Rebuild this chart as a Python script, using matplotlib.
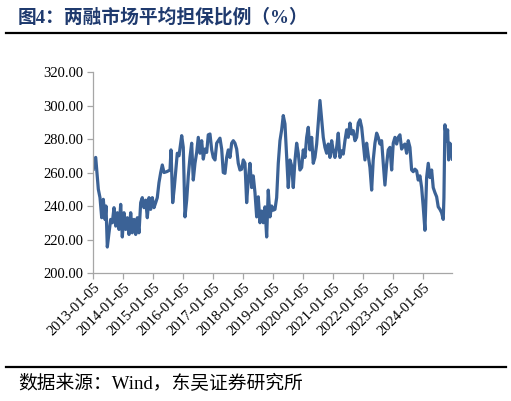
import matplotlib
matplotlib.use('Agg')
import matplotlib.pyplot as plt
import pandas as pd

# decimal year (2013.0 = 2013-01-05) and average collateral ratio (%)
years = [
    2013.000, 2013.033, 2013.080, 2013.113, 2013.167, 2013.223, 2013.280, 2013.333,
    2013.390, 2013.423, 2013.467, 2013.523, 2013.580, 2013.633, 2013.690, 2013.747,
    2013.800, 2013.857, 2013.913, 2013.967, 2014.023, 2014.080, 2014.133, 2014.190,
    2014.247, 2014.300, 2014.357, 2014.413, 2014.467, 2014.523, 2014.580, 2014.633,
    2014.690, 2014.747, 2014.800, 2014.857, 2014.913, 2014.967, 2015.023, 2015.080,
    2015.133, 2015.190, 2015.247, 2015.300, 2015.357, 2015.447, 2015.557, 2015.590,
    2015.647, 2015.700, 2015.800, 2015.857, 2015.947, 2016.000, 2016.057, 2016.113,
    2016.167, 2016.223, 2016.280, 2016.333, 2016.390, 2016.447, 2016.500, 2016.557,
    2016.613, 2016.667, 2016.723, 2016.780, 2016.833, 2016.890, 2016.947, 2017.000,
    2017.057, 2017.113, 2017.167, 2017.223, 2017.280, 2017.333, 2017.390, 2017.447,
    2017.500, 2017.557, 2017.613, 2017.667, 2017.723, 2017.780, 2017.833, 2017.890,
    2017.947, 2018.000, 2018.057, 2018.113, 2018.167, 2018.223, 2018.280, 2018.333,
    2018.390, 2018.447, 2018.500, 2018.557, 2018.613, 2018.667, 2018.723, 2018.780,
    2018.833, 2018.890, 2018.947, 2019.000, 2019.057, 2019.113, 2019.167, 2019.223,
    2019.280, 2019.333, 2019.390, 2019.447, 2019.500, 2019.557, 2019.613, 2019.667,
    2019.723, 2019.780, 2019.833, 2019.890, 2019.947, 2020.000, 2020.057, 2020.113,
    2020.167, 2020.223, 2020.280, 2020.333, 2020.390, 2020.447, 2020.500, 2020.557,
    2020.613, 2020.667, 2020.723, 2020.780, 2020.833, 2020.890, 2020.947, 2021.000,
    2021.057, 2021.113, 2021.167, 2021.223, 2021.280, 2021.333, 2021.390, 2021.447,
    2021.500, 2021.557, 2021.613, 2021.667, 2021.723, 2021.780, 2021.833, 2021.890,
    2021.947, 2022.000, 2022.057, 2022.113, 2022.167, 2022.223, 2022.280, 2022.333,
    2022.390, 2022.447, 2022.500, 2022.557, 2022.613, 2022.667, 2022.723, 2022.780,
    2022.833, 2022.890, 2022.947, 2023.000, 2023.057, 2023.113, 2023.167, 2023.223,
    2023.280, 2023.333, 2023.390, 2023.447, 2023.500, 2023.557, 2023.613, 2023.667,
    2023.723, 2023.780, 2023.833, 2023.890, 2023.947, 2024.000, 2024.057, 2024.113,
    2024.167, 2024.223, 2024.280, 2024.333, 2024.390, 2024.447, 2024.500, 2024.557,
    2024.613, 2024.667, 2024.690, 2024.723, 2024.780, 2024.813, 2024.847, 2024.890,
    2024.947, 2024.973,
]
ratio = [
    262, 268, 269, 262, 250, 245, 233, 244,
    232, 240, 215.5, 224, 232, 230, 239, 228,
    236, 226, 241, 221.5, 236, 226, 233, 223,
    236, 224, 232, 223, 233, 224, 242, 245,
    239, 243.5, 233, 245, 238, 245, 239, 242,
    245, 254, 260, 264.5, 260, 260.5, 261.5, 273.5,
    242, 251, 271.5, 270, 282, 275, 233.5, 243.5,
    258, 269, 277.5, 255.5, 265.5, 272, 281, 271.5,
    279, 268, 274, 272, 282.5, 283, 273.5, 269,
    267.5, 277.5, 279, 280.5, 274, 260, 259.5, 269,
    273.5, 269, 277.5, 279, 277.5, 274, 265.5, 261.5,
    262, 267.5, 265.5, 242, 256, 265.5, 251, 258,
    248, 233.5, 245.5, 230, 237, 230, 239.5, 221.5,
    249.5, 233.5, 240, 237.5, 238, 245, 265.5, 279,
    285.5, 294, 289, 269, 251, 267.5, 264, 251,
    267, 277.5, 271.5, 261.5, 263, 273.5, 269, 281,
    287, 273.5, 281, 265.5, 269, 277, 289.5, 303,
    291.5, 281, 275, 271.5, 277, 269, 279, 273,
    269, 275, 283.5, 269, 273, 271, 279, 285.5,
    281, 289.5, 283, 285, 279, 281, 289.5, 291.5,
    287, 277.5, 267.5, 277.5, 270, 263, 249.5, 267.5,
    277.5, 283.5, 281, 277, 279, 265.5, 252.5, 265,
    273.5, 275, 261.5, 277.5, 281, 277, 281, 282.5,
    274, 276, 277, 271.5, 279, 275, 261.5, 260.5,
    262, 261, 255.5, 258, 251, 239.5, 225.5, 257,
    265.5, 257, 261.5, 251, 248, 245.5, 239.5, 238,
    236, 232, 245, 288.5, 279, 285.5, 267.5, 277.5,
    272, 268,
]
tick_labels = ['2013-01-05', '2014-01-05', '2015-01-05', '2016-01-05',
               '2017-01-05', '2018-01-05', '2019-01-05', '2020-01-05',
               '2021-01-05', '2022-01-05', '2023-01-05', '2024-01-05']
y_ticks = [200, 220, 240, 260, 280, 300, 320]

title = '图4：两融市场平均担保比例（%）'
source = '数据来源：Wind，东吴证券研究所'

fam = ['Liberation Serif', 'Noto Sans CJK SC', 'DejaVu Sans']
plt.rcParams['font.family'] = fam

start = pd.Timestamp('2013-01-05')
dates = [start + pd.Timedelta(days=(y - 2013) * 365.25) for y in years]

fig = plt.figure(figsize=(5.11, 4.01), dpi=100)
ax = fig.add_axes([0.1826, 0.3192, 0.7014, 0.5012])

ax.plot(dates, ratio, color='#3B6296', lw=2.3, solid_joinstyle='round')

ax.set_ylim(200, 320)
ax.set_yticks(y_ticks)
ax.set_yticklabels(['%.2f' % v for v in y_ticks])
ax.set_xlim(start, start + pd.Timedelta(days=11.95 * 365.25))
ax.set_xticks([pd.Timestamp(t) for t in tick_labels])
ax.set_xticklabels(tick_labels, rotation=45, ha='right', rotation_mode='anchor')

for s in ['top', 'right']:
    ax.spines[s].set_visible(False)
for s in ['left', 'bottom']:
    ax.spines[s].set_color('#A6A6A6')
    ax.spines[s].set_linewidth(0.9)
ax.tick_params(axis='both', color='#A6A6A6', length=4, width=0.9,
               labelsize=10.5, labelcolor='#000000')
ax.tick_params(axis='x', pad=2)

fig.text(0.035, 0.958, title, fontsize=13.5, fontweight='bold', color='#1F3A6E',
         va='center', ha='left')
fig.add_artist(plt.Line2D([0.012, 0.99], [0.918, 0.918], color='black', lw=1.6))
fig.add_artist(plt.Line2D([0.012, 0.99], [0.085, 0.085], color='black', lw=1.6))
fig.text(0.035, 0.043, source, fontsize=13.5, color='#000000', va='center', ha='left')

fig.savefig('out.png', dpi=100)
